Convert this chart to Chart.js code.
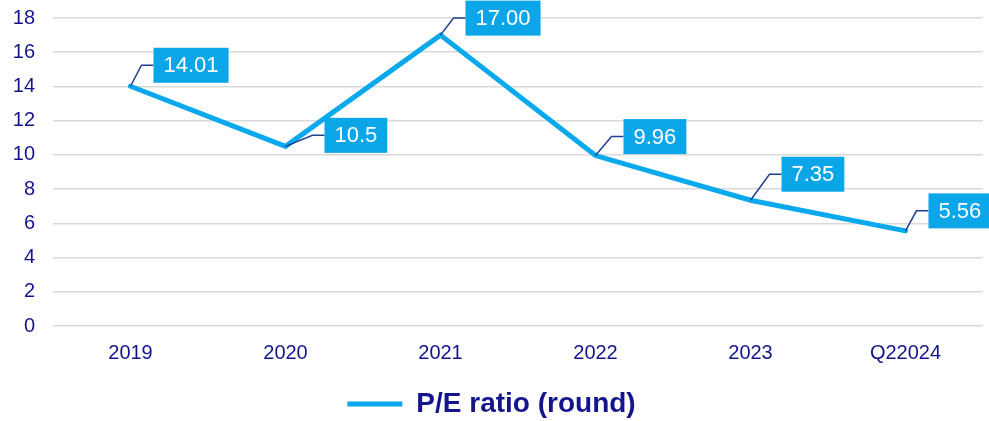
<!DOCTYPE html>
<html>
<head>
<meta charset="utf-8">
<script src="https://cdn.jsdelivr.net/npm/chart.js@4"></script>
<style>
  html, body { margin: 0; padding: 0; background: #fff; }
  #wrap { width: 989px; height: 421px; position: relative; }
</style>
</head>
<body>
<div id="wrap"><canvas id="myChart"></canvas></div>
<script>
// datos del grafico
const categorias = ['2019', '2020', '2021', '2022', '2023', 'Q22024'];
const valores = [14.01, 10.5, 17.00, 9.96, 7.35, 5.56];
const etiquetas = ['14.01', '10.5', '17.00', '9.96', '7.35', '5.56'];
const nombreSerie = 'P/E ratio (round)';

// desplazamiento de cada caja de etiqueta respecto a su punto (estilo)
const desplazamientos = [[23, -21], [39, -11], [25, -17], [28, -19], [31, -26], [23, -20]];

const azul = '#0aa8ec';
const navy = '#14148c';
const fuente = '"Liberation Sans", Arial, sans-serif';

const calloutPlugin = {
    id: 'callouts',
    afterDatasetsDraw(chart) {
        const ctx = chart.ctx;
        const meta = chart.getDatasetMeta(0);
        ctx.save();
        ctx.font = '22px ' + fuente;
        ctx.textBaseline = 'middle';
        meta.data.forEach((pt, i) => {
            const [dx, dy] = desplazamientos[i];
            const left = pt.x + dx;
            const cy = pt.y + dy;
            const texto = etiquetas[i];
            const w = ctx.measureText(texto).width + 20;
            const h = 35;
            // linea guia
            ctx.strokeStyle = '#1f3f8f';
            ctx.lineWidth = 1.5;
            ctx.beginPath();
            ctx.moveTo(pt.x, pt.y);
            ctx.lineTo(left - 12, cy);
            ctx.lineTo(left, cy);
            ctx.stroke();
            // caja
            ctx.fillStyle = '#0aa6e8';
            ctx.fillRect(left, cy - h / 2, w, h);
            ctx.fillStyle = '#ffffff';
            ctx.fillText(texto, left + 10, cy + 1);
        });
        ctx.restore();
    }
};

const ctx = document.getElementById('myChart').getContext('2d');
const chart = new Chart(ctx, {
    type: 'line',
    data: {
        labels: categorias,
        datasets: [{
            label: nombreSerie,
            data: valores,
            borderColor: azul,
            backgroundColor: azul,
            borderWidth: 5,
            borderCapStyle: 'round',
            borderJoinStyle: 'miter',
            pointRadius: 0,
            tension: 0
        }]
    },
    options: {
        responsive: true,
        maintainAspectRatio: false,
        animation: false,
        layout: {
            padding: { top: 18, right: 6, bottom: -7, left: 0 }
        },
        scales: {
            x: {
                offset: true,
                grid: { display: false, drawTicks: false },
                border: { display: false },
                ticks: {
                    color: navy,
                    padding: 15,
                    maxRotation: 0,
                    font: { family: fuente, size: 20 }
                },
                afterFit: s => {
                    s.height = 60;
                    s.paddingLeft = 0;
                    s.paddingRight = 0;
                }
            },
            y: {
                min: 0,
                max: 18,
                ticks: {
                    stepSize: 2,
                    color: navy,
                    padding: 18,
                    font: { family: fuente, size: 20 }
                },
                grid: { color: '#d9d9d9', lineWidth: 1.5, drawTicks: false },
                border: { display: false },
                afterFit: s => {
                    s.width = 53;
                    s.paddingTop = 0;
                    s.paddingBottom = 0;
                }
            }
        },
        plugins: {
            legend: {
                display: true,
                position: 'bottom',
                labels: {
                    usePointStyle: true,
                    pointStyle: 'line',
                    pointStyleWidth: 55,
                    color: navy,
                    padding: 4,
                    font: { family: fuente, size: 28, weight: 'bold' }
                }
            },
            tooltip: { enabled: false }
        }
    },
    plugins: [calloutPlugin]
});
</script>
</body>
</html>
